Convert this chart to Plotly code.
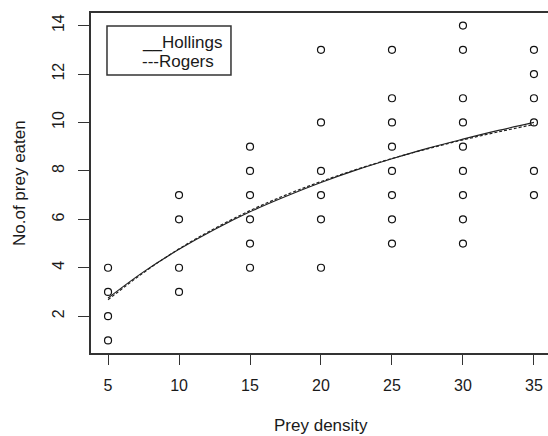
import plotly.graph_objects as go

# Observed data
prey_density = [5, 5, 5, 5,
                10, 10, 10, 10,
                15, 15, 15, 15, 15, 15,
                20, 20, 20, 20, 20, 20,
                25, 25, 25, 25, 25, 25, 25, 25,
                30, 30, 30, 30, 30, 30, 30, 30, 30,
                35, 35, 35, 35, 35, 35]
prey_eaten = [1, 2, 3, 4,
              3, 4, 6, 7,
              4, 5, 6, 7, 8, 9,
              4, 6, 7, 8, 10, 13,
              5, 6, 7, 8, 9, 10, 11, 13,
              5, 6, 7, 8, 9, 10, 11, 13, 14,
              7, 8, 10, 11, 12, 13]

# Fitted curves
curve_x = [5, 7.5, 10, 12.5, 15, 17.5, 20, 22.5, 25, 27.5, 30, 32.5, 35]
hollings = [2.75, 3.83, 4.76, 5.58, 6.31, 6.94, 7.52, 8.04, 8.50, 8.93, 9.31, 9.67, 10.0]
rogers = [2.68, 3.80, 4.78, 5.62, 6.36, 7.00, 7.56, 8.06, 8.51, 8.91, 9.28, 9.61, 9.92]

x_ticks = [5, 10, 15, 20, 25, 30, 35]
y_ticks = [2, 4, 6, 8, 10, 12, 14]

FONT = "Liberation Sans, Arial, sans-serif"
TXT = "#1a1a1a"
AX = "#333333"

fig = go.Figure()
fig.add_trace(go.Scatter(
    x=prey_density, y=prey_eaten, mode="markers",
    marker=dict(symbol="circle-open", size=7, color="#111111",
                line=dict(width=1.2, color="#111111")),
    showlegend=False))
fig.add_trace(go.Scatter(
    x=curve_x, y=hollings, mode="lines", line_shape="spline",
    line=dict(color="#222222", width=1.2), showlegend=False))
fig.add_trace(go.Scatter(
    x=curve_x, y=rogers, mode="lines", line_shape="spline",
    line=dict(color="#222222", width=1.2, dash="3px,2px"), showlegend=False))

fig.update_layout(
    width=548, height=436,
    margin=dict(l=91, r=0, t=13, b=83),
    paper_bgcolor="white", plot_bgcolor="white",
    font=dict(family=FONT, size=16, color=TXT),
    showlegend=False,
)
fig.update_xaxes(
    range=[3.8, 35.99], tickvals=x_ticks, ticktext=[str(v) for v in x_ticks],
    showgrid=False, zeroline=False,
    showline=True, linecolor=AX, linewidth=1.5, mirror=True,
    ticks="outside", ticklen=10, tickcolor=AX, tickwidth=1.2,
    ticklabelstandoff=7,
    tickfont=dict(size=16, family=FONT, color=TXT))
fig.update_yaxes(
    range=[0.48, 14.52], tickvals=y_ticks, ticktext=[str(v) for v in y_ticks],
    showgrid=False, zeroline=False,
    showline=True, linecolor=AX, linewidth=1.5,
    ticks="outside", ticklen=11, tickcolor=AX, tickwidth=1.2,
    tickangle=-90, ticklabelstandoff=8,
    tickfont=dict(size=16, family=FONT, color=TXT))

# Axis titles
fig.add_annotation(text="Prey density", xref="paper", yref="paper",
                   x=0.503, y=-0.212, xanchor="center", yanchor="middle",
                   showarrow=False, font=dict(size=17, family=FONT, color=TXT))
fig.add_annotation(text="No.of prey eaten", xref="paper", yref="paper",
                   x=-0.1575, y=0.5, xanchor="center", yanchor="middle",
                   textangle=-90, showarrow=False,
                   font=dict(size=17, family=FONT, color=TXT))

# Legend box
fig.add_shape(type="rect", xref="paper", yref="paper",
              x0=0.035, x1=0.3063, y0=0.8176, y1=0.9618,
              line=dict(color=AX, width=1.5), fillcolor="white")
fig.add_annotation(text="__Hollings", xref="paper", yref="paper",
                   x=0.1072, y=0.9118, xanchor="left", yanchor="middle",
                   showarrow=False, font=dict(size=17, family=FONT, color=TXT))
fig.add_annotation(text="---Rogers", xref="paper", yref="paper",
                   x=0.1072, y=0.8559, xanchor="left", yanchor="middle",
                   showarrow=False, font=dict(size=17, family=FONT, color=TXT))

fig.write_html(
    "out.html",
    config={"displayModeBar": False},
    post_script="document.body.style.margin='0';"
                "document.documentElement.style.overflow='hidden';")
